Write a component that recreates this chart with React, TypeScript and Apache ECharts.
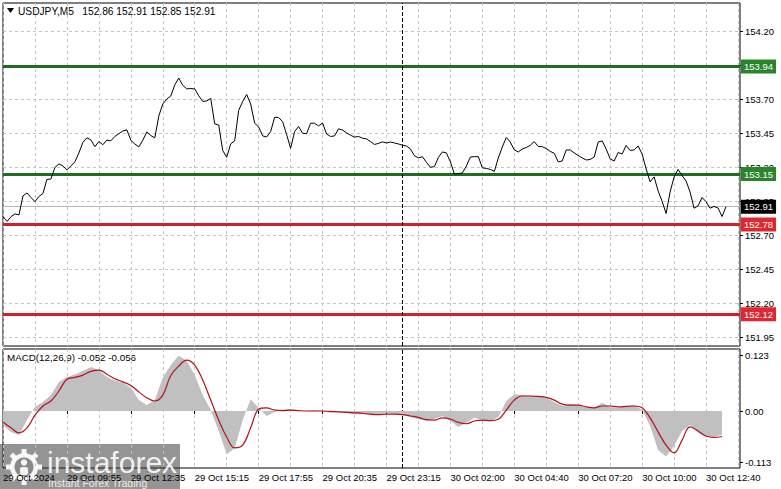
import React, { useEffect, useRef } from 'react';
import * as echarts from 'echarts';

const FONT = '"Liberation Sans", Arial, sans-serif';

// price closes, one value every 2 bars (10 minutes), M5 USDJPY
const price = [
  152.837, 152.802, 152.837, 152.857, 152.850, 152.989, 153.011, 152.978, 152.947, 152.985,
  153.007, 153.110, 153.114, 153.198, 153.224, 153.209, 153.180, 153.209, 153.239, 153.305,
  153.382, 153.416, 153.400, 153.351, 153.389, 153.365, 153.399, 153.394, 153.426, 153.446,
  153.466, 153.475, 153.398, 153.371, 153.349, 153.398, 153.459, 153.433, 153.415, 153.576,
  153.664, 153.701, 153.723, 153.804, 153.855, 153.802, 153.775, 153.778, 153.775, 153.725,
  153.683, 153.687, 153.706, 153.518, 153.510, 153.323, 153.273, 153.371, 153.394, 153.617,
  153.683, 153.734, 153.664, 153.523, 153.496, 153.430, 153.422, 153.461, 153.567, 153.565,
  153.534, 153.440, 153.339, 153.461, 153.499, 153.449, 153.446, 153.523, 153.523, 153.503,
  153.525, 153.444, 153.426, 153.430, 153.482, 153.473, 153.452, 153.435, 153.421, 153.426,
  153.413, 153.408, 153.388, 153.367, 153.375, 153.386, 153.378, 153.385, 153.378, 153.371,
  153.361, 153.356, 153.334, 153.284, 153.269, 153.277, 153.236, 153.200, 153.204, 153.273,
  153.312, 153.305, 153.239, 153.150, 153.153, 153.158, 153.209, 153.275, 153.278, 153.277,
  153.195, 153.191, 153.184, 153.169, 153.268, 153.349, 153.418, 153.385, 153.327, 153.312,
  153.334, 153.345, 153.361, 153.388, 153.352, 153.351, 153.337, 153.316, 153.302, 153.239,
  153.246, 153.327, 153.327, 153.305, 153.286, 153.268, 153.253, 153.257, 153.275, 153.385,
  153.393, 153.334, 153.261, 153.246, 153.308, 153.297, 153.360, 153.323, 153.327, 153.356,
  153.297, 153.187, 153.092, 153.129, 153.026, 152.950, 152.860, 153.018, 153.128, 153.184,
  153.139, 153.099, 153.018, 152.899, 152.916, 152.978, 152.947, 152.899, 152.912, 152.901,
  152.838, 152.910,
];

// MACD main (histogram) and signal, one value every 4 bars
const macdHist = [
  -0.031, -0.046, -0.053, -0.020, 0.009, 0.020, 0.035, 0.064, 0.075, 0.080,
  0.088, 0.097, 0.090, 0.075, 0.067, 0.062, 0.051, 0.024, 0.013, 0.024,
  0.073, 0.101, 0.122, 0.110, 0.079, 0.035, 0.002, -0.044, -0.095, -0.082,
  -0.020, 0.026, 0.007, -0.011, -0.002, 0.004, 0.004, 0.000, 0.000, 0.002,
  0.000, -0.004, -0.002, -0.004, -0.007, -0.007, -0.009, -0.007, -0.004, -0.006,
  -0.009, -0.013, -0.018, -0.022, -0.017, -0.011, -0.022, -0.035, -0.026, -0.015,
  -0.020, -0.022, -0.013, 0.022, 0.037, 0.035, 0.033, 0.033, 0.029, 0.020,
  0.011, 0.015, 0.013, 0.007, 0.007, 0.018, 0.009, 0.007, 0.011, 0.013,
  0.002, -0.033, -0.086, -0.100, -0.077, -0.044, -0.031, -0.048, -0.057, -0.056,
  -0.052,
];
const macdSignal = [
  -0.024, -0.037, -0.048, -0.037, -0.009, 0.011, 0.022, 0.044, 0.070, 0.074,
  0.079, 0.087, 0.090, 0.081, 0.071, 0.064, 0.056, 0.042, 0.029, 0.022,
  0.035, 0.078, 0.099, 0.112, 0.101, 0.068, 0.024, -0.020, -0.057, -0.081,
  -0.075, -0.037, 0.004, 0.007, 0.002, 0.001, 0.002, 0.001, 0.000, 0.000,
  0.000, -0.001, -0.002, -0.003, -0.004, -0.005, -0.007, -0.008, -0.007, -0.007,
  -0.008, -0.011, -0.014, -0.019, -0.020, -0.015, -0.018, -0.025, -0.028, -0.022,
  -0.020, -0.021, -0.018, 0.002, 0.024, 0.033, 0.033, 0.032, 0.030, 0.024,
  0.015, 0.013, 0.013, 0.009, 0.007, 0.011, 0.011, 0.009, 0.010, 0.011,
  0.007, -0.015, -0.046, -0.075, -0.092, -0.064, -0.035, -0.044, -0.055, -0.058,
  -0.056,
];

const xTickLabels = [
  '29 Oct 2024', '29 Oct 09:55', '29 Oct 12:35', '29 Oct 15:15', '29 Oct 17:55', '29 Oct 20:35',
  '29 Oct 23:15', '30 Oct 02:00', '30 Oct 04:40', '30 Oct 07:20', '30 Oct 10:00', '30 Oct 12:40',
];
const priceTicks = [151.95, 152.2, 152.45, 152.7, 152.95, 153.2, 153.45, 153.7, 153.95, 154.2];
const macdTicks = [-0.113, 0, 0.123];

const levels = [153.94, 153.15, 152.78, 152.12];
const levelColors = ['#1f6e1f', '#1f6e1f', '#d21f2a', '#d21f2a'];
const levelLabelBg = ['#2a852a', '#2a852a', '#e0262f', '#e0262f'];
const currentPrice = 152.91;
const separatorBar = 200;

const barCount = 370;
const labelStep = 32;
const gridStep = 16;

export default function App() {
  const ref = useRef<HTMLDivElement>(null);

  useEffect(() => {
    if (!ref.current) return;
    const chart = echarts.init(ref.current, null, { renderer: 'svg' });
    const categories = Array.from({ length: barCount }, (_, b) => 'b' + b);
    const priceFull = categories.map((_, b) => (b % 2 === 0 && price[b / 2] !== undefined ? price[b / 2] : null));
    const histFull = categories.map((_, b) => (b % 4 === 0 && macdHist[b / 4] !== undefined ? macdHist[b / 4] : null));
    const sigFull = categories.map((_, b) => (b % 4 === 0 && macdSignal[b / 4] !== undefined ? macdSignal[b / 4] : null));

    const gridLine = { show: true, interval: (i: number) => i % gridStep === 0, lineStyle: { color: '#c4c4c4', type: [3, 3], width: 1 } };
    const lbl = { fontFamily: FONT, fontSize: 9.5, color: '#000' };

    const levelData: any[] = levels.map((v, k) => ({
      yAxis: v,
      lineStyle: { color: levelColors[k], width: 3, type: 'solid' },
      label: {
        show: true, position: 'end', formatter: v.toFixed(2), backgroundColor: levelLabelBg[k],
        color: '#fff', padding: [2, 3, 2, 3], fontSize: 9.5, fontFamily: FONT, distance: 1,
      },
    }));
    levelData.unshift({
      yAxis: currentPrice,
      lineStyle: { color: '#b8b8b8', width: 1, type: 'solid' },
      label: {
        show: true, position: 'end', formatter: currentPrice.toFixed(2), backgroundColor: '#000',
        color: '#fff', padding: [2, 3, 2, 3], fontSize: 9.5, fontFamily: FONT, distance: 1,
      },
    });
    levelData.push({ xAxis: separatorBar, lineStyle: { color: '#000', width: 1, type: [4, 2] }, label: { show: false } });

    const teeth = Array.from({ length: 8 }, (_, k) => ({
      type: 'rect', x: 24, y: 467, rotation: (k * Math.PI) / 4,
      shape: { x: -2.5, y: -18, width: 5, height: 6 }, style: { fill: 'rgba(255,255,255,0.92)' },
    }));

    chart.setOption({
      animation: false,
      backgroundColor: '#fff',
      grid: [
        { left: 3, top: 3, width: 737, height: 343, show: true, borderColor: '#000', borderWidth: 1 },
        { left: 3, top: 349, width: 737, height: 119, show: true, borderColor: '#000', borderWidth: 1 },
      ],
      xAxis: [
        {
          type: 'category', gridIndex: 0, data: categories, boundaryGap: false,
          axisLine: { show: false }, axisTick: { show: false }, axisLabel: { show: false }, splitLine: gridLine,
        },
        {
          type: 'category', gridIndex: 1, data: categories, boundaryGap: false,
          axisLine: { show: false },
          axisTick: { show: true, length: 3, interval: (i: number) => i % labelStep === 0, lineStyle: { color: '#000' } },
          axisLabel: {
            ...lbl, align: 'left', margin: 4,
            interval: (i: number) => i % labelStep === 0 && i / labelStep < xTickLabels.length,
            formatter: (_v: string, i: number) => xTickLabels[i / labelStep] ?? '',
          },
          splitLine: gridLine,
        },
      ],
      yAxis: [
        {
          type: 'value', gridIndex: 0, position: 'right', min: 151.887, max: 154.406,
          axisLine: { show: false },
          axisTick: { show: true, length: 3, customValues: priceTicks, lineStyle: { color: '#000' } },
          axisLabel: { ...lbl, margin: 5, customValues: priceTicks, formatter: (v: number) => v.toFixed(2) },
          splitLine: { show: true, lineStyle: { color: '#c4c4c4', type: [3, 3], width: 1 } },
        },
        {
          type: 'value', gridIndex: 1, position: 'right', min: -0.1253, max: 0.1363,
          axisLine: { show: false },
          axisTick: { show: true, length: 3, customValues: macdTicks, lineStyle: { color: '#000' } },
          axisLabel: { ...lbl, margin: 5, customValues: macdTicks, formatter: (v: number) => (v === 0 ? '0.00' : v.toFixed(3)) },
          splitLine: { show: false },
        },
      ],
      series: [
        {
          type: 'line', xAxisIndex: 0, yAxisIndex: 0, data: priceFull, connectNulls: true, symbol: 'none', z: 3,
          lineStyle: { color: '#000', width: 1 },
          markLine: { silent: true, symbol: ['none', 'none'], z: 1, animation: false, data: levelData },
        },
        {
          type: 'line', xAxisIndex: 1, yAxisIndex: 1, data: histFull, connectNulls: true, symbol: 'none', z: 2,
          lineStyle: { width: 0, color: '#c0c0c0' }, areaStyle: { color: '#c0c0c0', opacity: 1 },
          markLine: {
            silent: true, symbol: ['none', 'none'], z: 1, animation: false,
            data: [{ xAxis: separatorBar, lineStyle: { color: '#000', width: 1, type: [4, 2] }, label: { show: false } }],
          },
        },
        {
          type: 'line', xAxisIndex: 1, yAxisIndex: 1, data: sigFull, connectNulls: true, symbol: 'none', smooth: 0.4, z: 3,
          lineStyle: { color: '#b3111c', width: 1.2 },
        },
      ],
      graphic: [
        { type: 'polygon', shape: { points: [[7, 8], [14, 8], [10.5, 13]] }, style: { fill: '#000' } },
        { type: 'text', x: 18, y: 11, style: { text: 'USDJPY,M5   152.86 152.91 152.85 152.91', fontFamily: FONT, fontSize: 10.2, fill: '#000', verticalAlign: 'middle' } },
        { type: 'text', x: 7, y: 357, style: { text: 'MACD(12,26,9) -0.052 -0.056', fontFamily: FONT, fontSize: 9.8, fill: '#000', verticalAlign: 'middle' } },
        {
          type: 'group', z: 100, children: [
            { type: 'rect', shape: { x: 0, y: 444, width: 180, height: 45 }, style: { fill: 'rgba(60,60,60,0.55)' } },
            ...teeth,
            { type: 'circle', shape: { cx: 24, cy: 467, r: 14 }, style: { fill: 'rgba(255,255,255,0.92)' } },
            { type: 'circle', shape: { cx: 24, cy: 467, r: 9.5 }, style: { fill: '#8a8a8a' } },
            { type: 'circle', shape: { cx: 24, cy: 462.5, r: 3.2 }, style: { fill: 'rgba(255,255,255,0.92)' } },
            { type: 'rect', shape: { x: 20, y: 467, width: 8, height: 8, r: 2 }, style: { fill: 'rgba(255,255,255,0.92)' } },
            { type: 'text', x: 47, y: 462, style: { text: 'instaforex', fontFamily: FONT, fontSize: 30, fill: 'rgba(255,255,255,0.9)', verticalAlign: 'middle' } },
            { type: 'text', x: 48, y: 483, style: { text: 'Instant Forex Trading', fontFamily: FONT, fontSize: 10.5, fill: 'rgba(255,255,255,0.85)', verticalAlign: 'middle' } },
          ],
        },
      ],
    });
    return () => chart.dispose();
  }, []);

  return <div ref={ref} style={{ position: 'fixed', left: 0, top: 0, width: 781, height: 489 }} />;
}
